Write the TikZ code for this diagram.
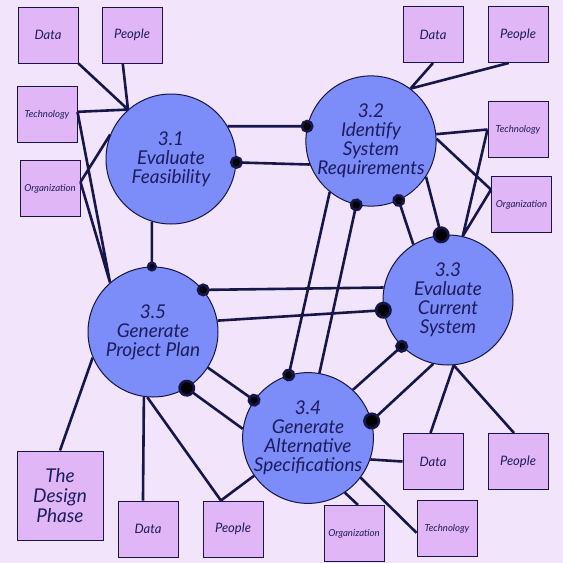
\documentclass[tikz,border=0pt]{standalone}
\usepackage{fontspec}
\setmainfont{Lato}
\usepackage{xcolor}
\usetikzlibrary{
    arrows.meta,
    positioning
}
\definecolor{bgcol}{HTML}{F1E4FB}
\definecolor{proccol}{HTML}{7C8CF8}
\definecolor{entcol}{HTML}{E0B6F7}
\definecolor{linecol}{HTML}{16164A}
\definecolor{textcol}{HTML}{1C1C5E}

\begin{document}
\begin{tikzpicture}[x=1pt, y=-1pt,
    proc/.style={circle, draw=linecol, line width=1pt, fill=proccol, minimum size=130pt,
        inner sep=0pt, align=center, text=textcol, font=\fontsize{19}{19}\selectfont\itshape},
    ent/.style={rectangle, draw=linecol, line width=1pt, fill=entcol, minimum width=60pt,
        minimum height=56pt, inner sep=0pt, align=center, text=textcol,
        font=\fontsize{13}{14}\selectfont\itshape},
    small/.style={font=\fontsize{9.6}{11}\selectfont\itshape},
    flow/.style={draw=linecol, line width=2.6pt},
    tinydot/.style={-{Circle[length=10pt]}, shorten >=-5pt},
    dot/.style={-{Circle[length=13pt]}, shorten >=-6.5pt},
    bigdot/.style={-{Circle[length=17pt]}, shorten >=-8.5pt}]
                        \fill[bgcol] (0, 0) rectangle (563, 563);
                        \useasboundingbox (0, 0) rectangle (563, 563);

                        \node[proc] (p31) at (171, 159) {3.1\\Evaluate\\Feasibility};
                        \node[proc] (p32) at (371, 141) {3.2\\Identify\\System\\Requirements};
                        \node[proc] (p33) at (448, 300) {3.3\\Evaluate\\Current\\System};
                        \node[proc] (p34) at (308, 438) {3.4\\Generate\\Alternative\\Specifications};
                        \node[proc] (p35) at (153, 332) {3.5\\Generate\\Project Plan};

                        \node[ent] (d1) at (48, 35) {Data};
                        \node[ent] (pp1) at (132, 35) {People};
                        \node[ent, small] (t1) at (47, 114.5) {Technology};
                        \node[ent, small] (o1) at (50, 188.5) {Organization};

                        \node[ent] (d2) at (433, 34.5) {Data};
                        \node[ent] (pp2) at (518, 34.5) {People};
                        \node[ent, small] (t2) at (518, 129.5) {Technology};
                        \node[ent, small] (o2) at (521.5, 204.5) {Organization};

                        \node[ent, minimum width=86pt, minimum height=89pt,
                            font=\fontsize{19}{20}\selectfont\itshape] (dp) at (60, 495.5) {The\\Design\\Phase};
                        \node[ent] (d3) at (148, 529) {Data};
                        \node[ent] (pp3) at (233, 529) {People};

                        \node[ent] (d4) at (433, 461.5) {Data};
                        \node[ent] (pp4) at (518, 461.5) {People};
                        \node[ent, small] (t4) at (447, 528.5) {Technology};
                        \node[ent, small] (o4) at (354, 533.5) {Organization};

                        \draw[flow]
                        (d1.south east) -- (p31.131)
                        (pp1.252) -- (p31.131)
                        (t1.5) -- (p31.131)
                        (o1.12) -- (p31.158)
                        (t1.5) -- (p35.131)
                        (o1.12) -- (p35.131)
                        (p31.-107) edge[tinydot] (p35.91)
                        (p31.30) edge[dot] (p32.167)
                        (p32.201) edge[dot] (p31.-3)
                        (d2.south) -- (p32.53)
                        (pp2.252) -- (p32.53)
                        (p32.6) -- (t2.west)
                        (p32.2) -- (o2.154)
                        (t2.west) -- (p33.77)
                        (o2.154) -- (p33.77)
                        (p32.-33.5) edge[bigdot] (p33.96)
                        (p33.122) edge[dot] (p32.-65)
                        (p32.-129.5) edge[dot] (p34.107)
                        (p34.80) edge[dot] (p32.-103)
                        (p33.169) edge[dot] (p35.40)
                        (p35.10) edge[bigdot] (p33.189)
                        (p34.47) edge[dot] (p33.-135)
                        (p33.-103) edge[bigdot] (p34.15)
                        (p35.-33) edge[dot] (p34.145)
                        (p34.172) edge[bigdot] (p35.-59)
                        (p35.203) -- (dp.north)
                        (p35.-98) -- (d3.100)
                        (p35.-95) -- (pp3.113)
                        (pp3.113) -- (p34.215)
                        (p33.-85) -- (d4.95)
                        (p33.-85) -- (pp4.98)
                        (p34.-19) -- (d4.west)
                        (p34.-37) -- (t4.188)
                        (p34.-56) -- (o4.82);
                    \end{tikzpicture}
\end{document}
